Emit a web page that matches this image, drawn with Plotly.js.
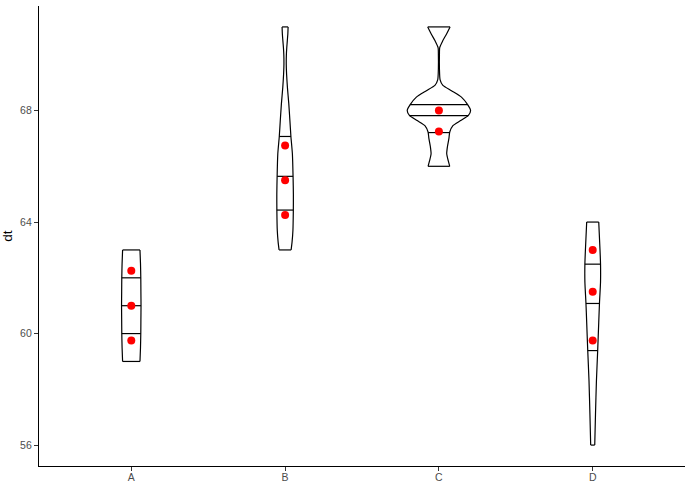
<!DOCTYPE html>
<html><head><meta charset="utf-8">
<script src="https://cdn.plot.ly/plotly-3.0.1.min.js"></script>
<style>html,body{margin:0;padding:0;background:#fff}#chart{width:690px;height:490px}</style>
</head><body><div id="chart"></div>
<script>
// ---- data ----
const categories = ['A', 'B', 'C', 'D'];
const yTickValues = [56, 60, 64, 68];

// violin density profiles (y level -> estimated density)
const levelsA = [59.0, 59.5, 60.0, 60.5, 61.0, 61.5, 62.0, 62.5, 63.0];
const densA   = [0.150, 0.159, 0.164, 0.166, 0.168, 0.166, 0.164, 0.159, 0.150];

const levelsB = [63.0, 63.3, 63.7, 64.4, 65.0, 65.6, 66.45, 67.08, 67.64, 68.24, 68.83, 69.3, 69.67, 70.0, 70.26, 70.5, 70.74, 71.0];
const densB   = [0.104, 0.121, 0.135, 0.142, 0.143, 0.138, 0.126, 0.100, 0.083, 0.064, 0.040, 0.026, 0.020, 0.022, 0.029, 0.038, 0.047, 0.052];

const levelsC = [66.0, 66.2, 66.45, 66.7, 67.0, 67.23, 67.46, 67.64, 67.83, 68.0, 68.21, 68.48, 68.71, 68.9, 69.1, 69.5, 70.0, 70.26, 70.5, 70.74, 71.0];
const densC   = [0.187, 0.161, 0.135, 0.147, 0.173, 0.187, 0.242, 0.375, 0.509, 0.547, 0.496, 0.389, 0.216, 0.069, 0.021, 0.009, 0.009, 0.014, 0.066, 0.130, 0.193];

const levelsD = [56.0, 57.1, 58.3, 59.4, 60.4, 61.1, 61.85, 62.5, 63.0, 64.0];
const densD   = [0.035, 0.048, 0.064, 0.086, 0.104, 0.117, 0.135, 0.135, 0.126, 0.104];

// quartile lines (25%, 50%, 75%)
const quartA = [60.0, 61.0, 62.0];
const quartB = [64.43, 65.64, 67.07];
const quartC = [67.21, 67.82, 68.21];
const quartD = [59.39, 61.08, 62.49];

// red points
const pointsA = [59.75, 61.0, 62.25];
const pointsB = [64.25, 65.5, 66.75];
const pointsC = [67.25, 68.0];
const pointsD = [59.75, 61.5, 63.0];

// ---- build ----
const groups = [
  {levels: levelsA, dens: densA, quart: quartA, pts: pointsA},
  {levels: levelsB, dens: densB, quart: quartB, pts: pointsB},
  {levels: levelsC, dens: densC, quart: quartC, pts: pointsC},
  {levels: levelsD, dens: densD, quart: quartD, pts: pointsD}
];

const maxHalfWidth = 0.206;   // in category units
const maxDens = Math.max(...groups.map(g => Math.max(...g.dens)));
const scale = maxHalfWidth / maxDens;

function densAt(levels, dens, y) {
  for (let i = 0; i < levels.length - 1; i++) {
    if (y >= levels[i] && y <= levels[i + 1]) {
      const t = (y - levels[i]) / (levels[i + 1] - levels[i]);
      return dens[i] + t * (dens[i + 1] - dens[i]);
    }
  }
  return 0;
}

const lineStyle = {color: '#000', width: 1.2};
const traces = [];
groups.forEach((g, gi) => {
  const c = gi;
  traces.push({x: g.levels.map((y, i) => c + g.dens[i] * scale), y: g.levels,
    mode: 'lines', line: Object.assign({shape: 'spline', smoothing: 0.6}, lineStyle), hoverinfo: 'skip'});
  traces.push({x: g.levels.map((y, i) => c - g.dens[i] * scale), y: g.levels,
    mode: 'lines', line: Object.assign({shape: 'spline', smoothing: 0.6}, lineStyle), hoverinfo: 'skip'});
  const sx = [], sy = [];
  const n = g.levels.length;
  [g.levels[0], g.levels[n - 1]].concat(g.quart).forEach(y => {
    const w = densAt(g.levels, g.dens, y) * scale;
    sx.push(c - w, c + w, null); sy.push(y, y, null);
  });
  traces.push({x: sx, y: sy, mode: 'lines', line: lineStyle, hoverinfo: 'skip'});
});
groups.forEach((g, gi) => {
  traces.push({x: g.pts.map(() => gi), y: g.pts, mode: 'markers',
    marker: {color: '#FF0000', size: 8, line: {width: 0}}, hoverinfo: 'skip'});
});

const axisCommon = {
  showline: true, linecolor: '#000', linewidth: 1.1, mirror: false,
  ticks: 'outside', ticklen: 4, tickwidth: 1, tickcolor: '#333',
  showgrid: false, zeroline: false,
  tickfont: {family: 'Liberation Sans, Arial, sans-serif', size: 10.5, color: '#4D4D4D'}
};

const layout = {
  width: 690, height: 490,
  margin: {l: 39, r: 5, t: 6, b: 24, pad: 0},
  paper_bgcolor: '#fff', plot_bgcolor: '#fff',
  showlegend: false,
  font: {family: 'Liberation Sans, Arial, sans-serif'},
  xaxis: Object.assign({}, axisCommon, {
    range: [-0.6, 3.6], tickmode: 'array', tickvals: categories.map((_, i) => i), ticktext: categories,
    ticklabelstandoff: -3
  }),
  yaxis: Object.assign({}, axisCommon, {
    range: [55.25, 71.75], tickmode: 'array', tickvals: yTickValues, ticktext: yTickValues.map(String),
    title: {text: 'dt', font: {size: 13.5, color: '#000'}, standoff: 6}
  })
};

Plotly.newPlot('chart', traces, layout, {staticPlot: true, displayModeBar: false});
</script>
</body></html>
